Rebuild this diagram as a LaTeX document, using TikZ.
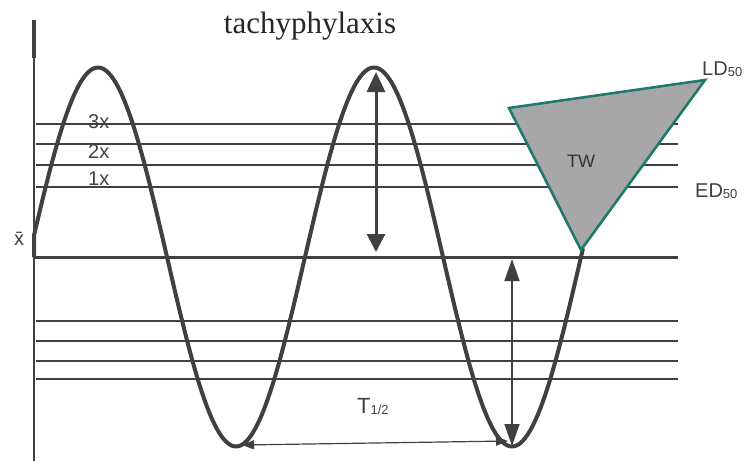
\documentclass[tikz,border=0pt]{standalone}
\usepackage{fontspec}
\setmainfont{Liberation Serif}
\setsansfont{Liberation Sans}
\usetikzlibrary{arrows.meta}
\definecolor{ink}{HTML}{404040}
\definecolor{twedge}{HTML}{1F7A6B}
\definecolor{twfill}{HTML}{A7A7A7}
\newcommand{\lowsub}[1]{\raisebox{-1.5pt}{\fontsize{13}{13}\selectfont #1}}

\begin{document}
\begin{tikzpicture}[x=1pt,y=-1pt,
    level/.style={ink,line width=1.8pt},
    wave/.style={ink,line width=4pt,line join=round},
    lbl/.style={inner sep=0pt,text=ink,font=\sffamily\fontsize{20}{22}\selectfont}]
  \useasboundingbox (0,0) rectangle (752,461);
  % axis and mean line
  \coordinate (axtop) at (34,20);
  \coordinate (axmid) at (34,58);
  \coordinate (axbot) at (34,461);
  \draw[ink,line width=4pt] (axtop) -- (axmid);
  \draw[ink,line width=2.6pt] (axmid) -- (axbot);
  \coordinate (meanL) at (34,257);
  \coordinate (meanR) at (678,257);
  \draw[ink,line width=3pt] (meanL) -- (meanR);
  % dose levels above and below the mean
  \foreach \y in {124,144,165,187,321,341,361,379}
    \draw[level] (36,\y) -- (678,\y);
  % concentration wave, period 276
  \draw[wave] (meanL) -- plot[domain=34:583,samples=220]
    (\x,{257-189.5*sin((\x-29)*1.30435)});
  % therapeutic window
  \coordinate (twA) at (509,108);
  \coordinate (twB) at (705,80);
  \coordinate (twC) at (581,250);
  \draw[twedge,fill=twfill,line width=2.6pt] (twA) -- (twB) -- (twC) -- cycle;
  \node[inner sep=0pt,text=ink!80!black,font=\sffamily\fontsize{18}{20}\selectfont] (tw) at (581,161) {TW};
  % amplitudes and half-life
  \coordinate (peakB) at (376,72);
  \coordinate (meanB) at (376,252);
  \draw[ink,line width=3pt,{Triangle[length=20pt,width=18pt]}-{Triangle[length=18pt,width=18pt]}] (peakB) -- (meanB);
  \coordinate (meanC) at (512,259);
  \coordinate (troughC) at (512,446);
  \draw[ink,line width=1.5pt,{Triangle[length=22pt,width=15pt]}-{Triangle[length=22pt,width=15pt]}] (meanC) -- (troughC);
  \coordinate (troughA) at (242,445);
  \coordinate (troughB) at (508,441);
  \draw[ink,line width=1.2pt,{Triangle[length=12pt,width=9pt]}-{Triangle[length=12pt,width=9pt]}] (troughA) -- (troughB);
  % labels
  \node[inner sep=0pt,anchor=base,text=black!85,font=\fontsize{31}{34}\selectfont] (title) at (310,33) {tachyphylaxis};
  \node[lbl,anchor=base west] (l3) at (88,128) {3x};
  \node[lbl,anchor=base west] (l2) at (88,158) {2x};
  \node[lbl,anchor=base west] (l1) at (88,185) {1x};
  \node[lbl,anchor=base west] (xbar) at (14,245) {\=x};
  \node[lbl,anchor=base west] (ld) at (702,75) {LD\lowsub{50}};
  \node[lbl,anchor=base west] (ed) at (695,197) {ED\lowsub{50}};
  \node[lbl,anchor=base west,font=\sffamily\fontsize{22}{24}\selectfont] (thalf) at (357,413) {T\lowsub{1/2}};
\end{tikzpicture}
\end{document}
